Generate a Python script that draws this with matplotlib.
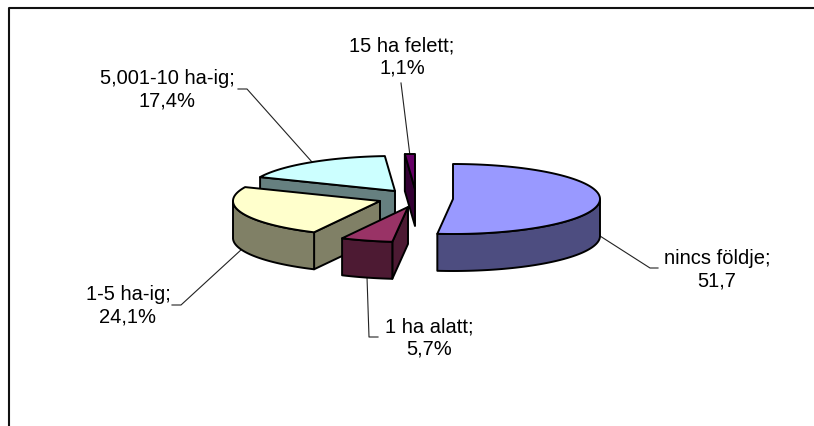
import numpy as np
import matplotlib
matplotlib.use("Agg")
import matplotlib.pyplot as plt
from matplotlib.patches import Polygon

#chart data, clockwise from 12 o'clock
values = [51.7, 5.7, 24.1, 17.4, 1.1]
labels = ["nincs földje;\n51,7", "1 ha alatt;\n5,7%", "1-5 ha-ig;\n24,1%",
          "5,001-10 ha-ig;\n17,4%", "15 ha felett;\n1,1%"]

top_colors = ["#9999FF", "#993366", "#FFFFCC", "#CCFFFF", "#660066"]
side_colors = ["#4D4D80", "#4D1A33", "#808066", "#668080", "#330033"]

#exploded centre of every slice, in pixels
centers = [(453, 200), (408, 208), (380, 202), (395, 192), (415, 190)]
draw_order = [0, 4, 3, 2, 1]

rx = 147
ry = 35
depth = 37

label_pos = [(717, 270), (429, 338), (128, 305.5), (167.5, 90), (402, 57)]
leaders = [[(600, 237), (650, 269), (658, 269)],
           [(367, 278), (369, 338), (378, 338)],
           [(242, 250), (181, 306), (172, 306)],
           [(312, 163), (247, 90), (238, 90)],
           [(410, 157), (401, 84)]]

fig = plt.figure(figsize=(8.14, 4.27), dpi=100)
ax = fig.add_axes([0, 0, 1, 1])
ax.set_xlim(0, 814)
ax.set_ylim(427, 0)
ax.axis("off")

#chart border, runs off the picture at right and bottom
ax.plot([8.5, 8.5, 814], [427, 9, 9], color="#111111", lw=1.5, zorder=1)

edges = np.cumsum([0] + values) / sum(values) * 2 * np.pi


def rim(c, a):
    return np.column_stack([c[0] + rx * np.sin(a), c[1] - ry * np.cos(a)])


def add_poly(pts, color, z):
    ax.add_patch(Polygon(pts, closed=True, facecolor=color, edgecolor="black",
                         lw=1.4, joinstyle="round", zorder=z))


z = 2
for i in draw_order:
    c = np.array(centers[i], dtype=float)
    a0, a1 = edges[i], edges[i + 1]
    angles = np.linspace(a0, a1, 120)
    arc = rim(c, angles)
    drop = np.array([0, depth])
    mid = rim(c, np.array([(a0 + a1) / 2]))[0]

    #radial walls, only those facing the viewer
    for a in (a0, a1):
        p = rim(c, np.array([a]))[0]
        d = p - c
        side_down = d[0] * drop[1] - d[1] * drop[0]
        side_mid = d[0] * (mid - c)[1] - d[1] * (mid - c)[0]
        if side_down * side_mid < 0:
            add_poly([c, p, p + drop, c + drop], side_colors[i], z)

    #outer wall on the front half
    front = angles[(angles > np.pi / 2) & (angles < 3 * np.pi / 2)]
    if len(front) > 1:
        f = rim(c, front)
        add_poly(np.vstack([f, (f + drop)[::-1]]), side_colors[i], z)

    add_poly(np.vstack([c, arc]), top_colors[i], z + 0.5)
    z += 1

for pts in leaders:
    xs, ys = zip(*pts)
    ax.plot(xs, ys, color="#222222", lw=0.8, zorder=1.5)

for text, pos in zip(labels, label_pos):
    ax.text(pos[0], pos[1], text, ha="center", va="center", multialignment="center",
            family="Liberation Sans", fontsize=14.5, linespacing=1.25, color="black", zorder=20)

fig.savefig("out.png", dpi=100)
